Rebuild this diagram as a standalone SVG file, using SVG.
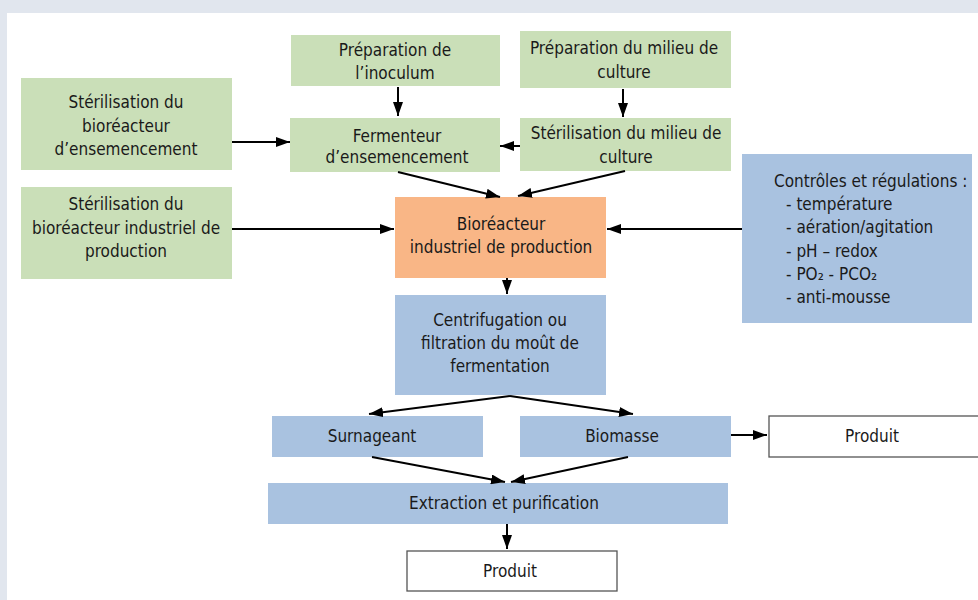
<svg xmlns="http://www.w3.org/2000/svg" width="978" height="600" viewBox="0 0 978 600">
<defs>
<marker id="ah" viewBox="0 0 14 10" refX="14" refY="5" markerWidth="14" markerHeight="10" markerUnits="userSpaceOnUse" orient="auto">
<path d="M0,0 L14,5 L0,10 z" fill="#000"/>
</marker>
<style>
text{font-family:"DejaVu Sans Condensed","Liberation Sans",sans-serif;font-size:17px;fill:#1a1a1a;text-anchor:middle}
.g{fill:#cadfb8}
.o{fill:#f9b686}
.b{fill:#a9c2e0}
.w{fill:#fff;stroke:#555;stroke-width:1.3}
.c line{stroke:#000;stroke-width:2;marker-end:url(#ah)}
.l{text-anchor:start}
</style>
</defs>
<rect x="0" y="0" width="978" height="600" fill="#e1e6ee"/>
<rect x="7" y="13" width="971" height="587" fill="#fff"/>

<g id="prep-inoculum"><rect class="g" x="291" y="35" width="209" height="51"/><text x="395" y="56">Préparation de</text><text x="395" y="79">l’inoculum</text></g>
<g id="prep-milieu"><rect class="g" x="520" y="31" width="211" height="57"/><text x="624" y="54">Préparation du milieu de</text><text x="624" y="78">culture</text></g>
<g id="ster-ens"><rect class="g" x="21" y="78" width="211" height="92"/><text x="126" y="108">Stérilisation du</text><text x="126" y="132">bioréacteur</text><text x="126" y="155">d’ensemencement</text></g>
<g id="fermenteur"><rect class="g" x="290" y="118" width="210" height="54"/><text x="397" y="142">Fermenteur</text><text x="397" y="163">d’ensemencement</text></g>
<g id="ster-milieu"><rect class="g" x="520" y="118" width="211" height="53"/><text x="626" y="139">Stérilisation du milieu de</text><text x="626" y="163">culture</text></g>
<g id="ster-ind"><rect class="g" x="21" y="187" width="211" height="92"/><text x="126" y="210">Stérilisation du</text><text x="126" y="234">bioréacteur industriel de</text><text x="126" y="257">production</text></g>
<g id="bioreacteur"><rect class="o" x="395" y="197" width="211" height="81"/><text x="501" y="230">Bioréacteur</text><text x="501" y="253">industriel de production</text></g>
<g id="centrifugation"><rect class="b" x="395" y="295" width="211" height="100"/><text x="500" y="326">Centrifugation ou</text><text x="500" y="349">filtration du moût de</text><text x="500" y="372">fermentation</text></g>
<g id="controles"><rect class="b" x="742" y="154" width="230" height="169"/>
<text class="l" x="774" y="187">Contrôles et régulations :</text>
<text class="l" x="786" y="210">- température</text>
<text class="l" x="786" y="233">- aération/agitation</text>
<text class="l" x="786" y="257">- pH – redox</text>
<text class="l" x="786" y="280">- PO₂ - PCO₂</text>
<text class="l" x="786" y="303">- anti-mousse</text></g>
<g id="surnageant"><rect class="b" x="272" y="416" width="211" height="41"/><text x="372" y="442">Surnageant</text></g>
<g id="biomasse"><rect class="b" x="520" y="416" width="211" height="41"/><text x="622" y="442">Biomasse</text></g>
<g id="produit1"><rect class="w" x="769" y="416" width="215" height="41"/><text x="872" y="442">Produit</text></g>
<g id="extraction"><rect class="b" x="268" y="483" width="460" height="41"/><text x="504" y="509">Extraction et purification</text></g>
<g id="produit2"><rect class="w" x="407" y="551" width="210" height="40"/><text x="510" y="577">Produit</text></g>

<g id="connectors" class="c">
<line x1="398" y1="87" x2="398" y2="116"/>
<line x1="623" y1="89" x2="623" y2="117"/>
<line x1="232" y1="142" x2="290" y2="142"/>
<line x1="520" y1="146" x2="500" y2="146"/>
<line x1="398" y1="172" x2="500" y2="197"/>
<line x1="625" y1="171" x2="518" y2="196"/>
<line x1="232" y1="229" x2="394" y2="229"/>
<line x1="742" y1="229" x2="607" y2="229"/>
<line x1="507" y1="278" x2="507" y2="294"/>
<line x1="510" y1="396" x2="369" y2="414"/>
<line x1="510" y1="396" x2="633" y2="414"/>
<line x1="372" y1="457" x2="505" y2="482"/>
<line x1="628" y1="457" x2="511" y2="482"/>
<line x1="507" y1="524" x2="507" y2="549"/>
<line x1="731" y1="435" x2="767" y2="435"/>
</g>
</svg>
